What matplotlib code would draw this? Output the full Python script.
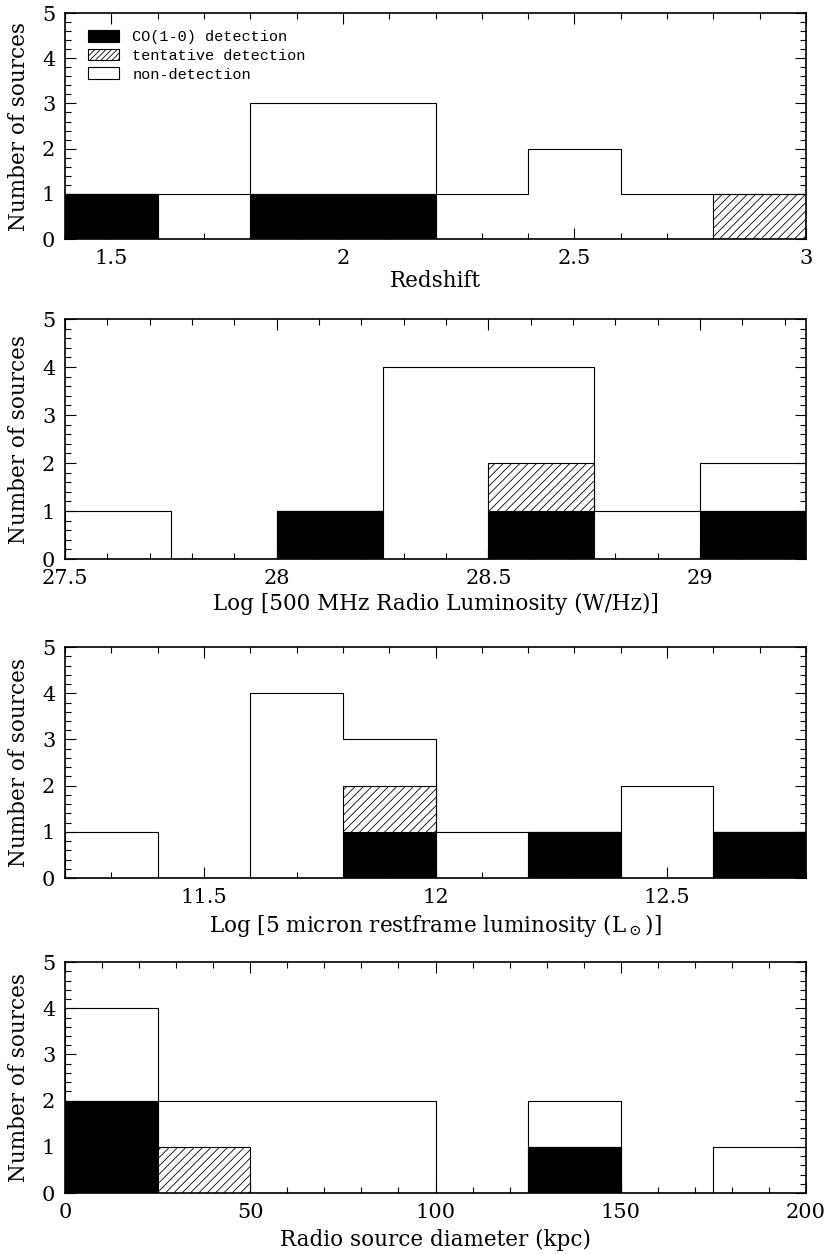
import numpy as np
import matplotlib
matplotlib.use("Agg")
import matplotlib.pyplot as plt
from matplotlib.ticker import MultipleLocator, FormatStrFormatter
from matplotlib.patches import Patch

plt.rcParams['font.family'] = ['DejaVu Serif']
plt.rcParams['mathtext.fontset'] = 'dejavuserif'
plt.rcParams['font.size'] = 15
plt.rcParams['hatch.linewidth'] = 0.6
plt.rcParams['xtick.direction'] = 'in'
plt.rcParams['ytick.direction'] = 'in'
plt.rcParams['xtick.top'] = True
plt.rcParams['ytick.right'] = True

# Redshift bins
z_edges = [1.4, 1.6, 1.8, 2.0, 2.2, 2.4, 2.6, 2.8, 3.0]
z_det = [1, 0, 1, 1, 0, 0, 0, 0]
z_tent = [0, 0, 0, 0, 0, 0, 0, 1]
z_total = [1, 1, 3, 3, 1, 2, 1, 1]

# log 500 MHz radio luminosity bins
lr_edges = [27.5, 27.75, 28.0, 28.25, 28.5, 28.75, 29.0, 29.25]
lr_det = [0, 0, 1, 0, 1, 0, 1]
lr_tent = [0, 0, 0, 0, 1, 0, 0]
lr_total = [1, 0, 1, 4, 4, 1, 2]

# log 5 micron luminosity bins
l5_edges = [11.2, 11.4, 11.6, 11.8, 12.0, 12.2, 12.4, 12.6, 12.8]
l5_det = [0, 0, 0, 1, 0, 1, 0, 1]
l5_tent = [0, 0, 0, 1, 0, 0, 0, 0]
l5_total = [1, 0, 4, 3, 1, 1, 2, 1]

# radio source size bins
d_edges = [0, 25, 50, 75, 100, 125, 150, 175, 200]
d_det = [2, 0, 0, 0, 0, 1, 0, 0]
d_tent = [0, 1, 0, 0, 0, 0, 0, 0]
d_total = [4, 2, 2, 2, 0, 2, 0, 1]

panels = [
    (z_edges, z_det, z_tent, z_total, 'Redshift', 0.5, 0.1),
    (lr_edges, lr_det, lr_tent, lr_total,
     'Log [500 MHz Radio Luminosity (W/Hz)]', 0.5, 0.1),
    (l5_edges, l5_det, l5_tent, l5_total,
     r'Log [5 micron restframe luminosity (L$_\odot$)]', 0.5, 0.1),
    (d_edges, d_det, d_tent, d_total, 'Radio source diameter (kpc)', 50, 10),
]

# axes rectangles (left, bottom, width, height) in figure fraction
boxes = [
    (0.0783, 0.8094, 0.8928, 0.1802),
    (0.0783, 0.5542, 0.8928, 0.1914),
    (0.0783, 0.2998, 0.8928, 0.1842),
    (0.0783, 0.0486, 0.8928, 0.1842),
]
xlab_off = [42, 45, 47, 47]

fig = plt.figure(figsize=(8.3, 12.54), dpi=100)

for i, (edges, det, tent, total, xlabel, major, minor) in enumerate(panels):
    ax = fig.add_axes(boxes[i])
    edges = np.array(edges, dtype=float)
    widths = np.diff(edges)
    det = np.array(det)
    tent = np.array(tent)

    ax.bar(edges[:-1], det, width=widths, align='edge', color='black',
           edgecolor='black', linewidth=0.8, zorder=2)
    ax.bar(edges[:-1], tent, width=widths, bottom=det, align='edge',
           facecolor='white', edgecolor='black', hatch='////',
           linewidth=0.8, zorder=2)
    ax.stairs(total, edges, color='black', linewidth=0.8, baseline=0,
              zorder=3)

    ax.set_xlim(edges[0], edges[-1])
    ax.set_ylim(0, 5)
    ax.xaxis.set_major_locator(MultipleLocator(major))
    ax.xaxis.set_minor_locator(MultipleLocator(minor))
    ax.xaxis.set_major_formatter(FormatStrFormatter('%g'))
    ax.yaxis.set_major_locator(MultipleLocator(1))
    ax.yaxis.set_minor_locator(MultipleLocator(0.2))
    ax.tick_params(which='major', length=8, width=0.8, pad=7)
    ax.tick_params(which='minor', length=4, width=0.8)
    for s in ax.spines.values():
        s.set_linewidth(1.2)
        s.set_zorder(5)

    h = boxes[i][3] * 1254
    ax.set_xlabel(xlabel, fontsize=15.5)
    ax.xaxis.set_label_coords(0.5, -xlab_off[i] / h)
    ax.xaxis.label.set_va('center')
    ax.set_ylabel('Number of sources', fontsize=15.5)
    ax.yaxis.set_label_coords(-46 / 741, 0.5)
    ax.yaxis.label.set_va('center')

    if i == 0:
        handles = [
            Patch(facecolor='black', edgecolor='black', linewidth=0.8),
            Patch(facecolor='white', edgecolor='black', hatch='//////',
                  linewidth=0.8),
            Patch(facecolor='white', edgecolor='black', linewidth=0.8),
        ]
        labels = ['CO(1-0) detection', 'tentative detection', 'non-detection']
        ax.legend(handles, labels, loc='upper left',
                  bbox_to_anchor=(0.031, 0.925), frameon=False,
                  borderpad=0, borderaxespad=0, handlelength=2.0,
                  handleheight=0.8, handletextpad=0.9, labelspacing=0.3,
                  prop={'family': 'Liberation Mono', 'size': 11})

fig.savefig('out.png', dpi=100)
